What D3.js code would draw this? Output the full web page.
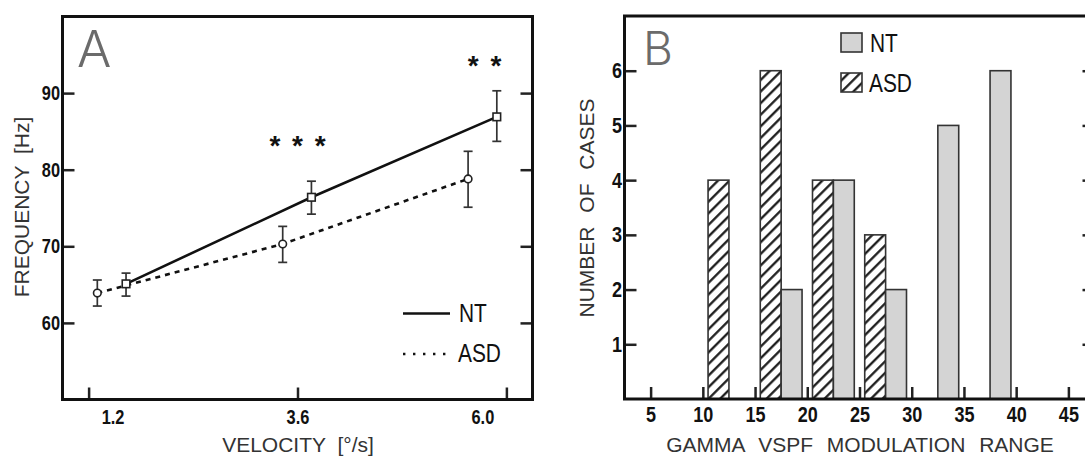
<!DOCTYPE html>
<html>
<head>
<meta charset="utf-8">
<script src="https://cdn.jsdelivr.net/npm/d3@7"></script>
<style>
  body { margin: 0; background: #fff; }
  svg text { font-family: "Liberation Sans", Arial, sans-serif; }
  .tick text { font-weight: bold; fill: #111; }
  .tick line { stroke: #222; stroke-width: 2.5; }
</style>
</head>
<body>
<svg id="chart" width="1085" height="456"></svg>
<script>
// ── Panel A: gamma frequency vs. drift velocity ─────────────────────────
const velTicks  = [1.2, 3.6, 6.0];
const freqTicks = [60, 70, 80, 90];

const ntVel  = [1.63, 3.76, 5.89];
const ntFreq = [65.1, 76.4, 86.9];
const ntLo   = [63.5, 74.2, 83.7];
const ntHi   = [66.5, 78.5, 90.3];

const asdVel  = [1.30, 3.43, 5.56];
const asdFreq = [63.9, 70.3, 78.8];
const asdLo   = [62.2, 67.9, 75.1];
const asdHi   = [65.6, 72.6, 82.4];

// significance marks (centre position in data units)
const starLabels = ['* * *', '* *'];
const starVel    = [3.6, 5.75];
const starFreq   = [83.8, 94.2];

// ── Panel B: histogram of modulation range ──────────────────────────────
const binStart   = [10, 15, 20, 25, 30, 35];
const asdCases   = [4, 6, 4, 3, 0, 0];
const ntCases    = [0, 2, 4, 2, 5, 6];
const rangeTicks = [5, 10, 15, 20, 25, 30, 35, 40, 45];
const caseTicks  = [1, 2, 3, 4, 5, 6];

const svg = d3.select('#chart');
const TICK = 12;
const NARROW = 0.82;   // fake a condensed face by squeezing Liberation Sans

// condensed label placed at x,y
function narrowText(g, x, y, size, txt) {
  return g.append('text')
    .attr('transform', `translate(${x},${y}) scale(${NARROW},1)`)
    .attr('font-size', size).attr('fill', '#111')
    .text(txt);
}
const squeezeTicks = size => g => g.selectAll('.tick text')
  .attr('font-size', size)
  .attr('transform', `scale(${NARROW},1)`);

// pattern for ASD bars
const defs = svg.append('defs');
defs.append('pattern')
  .attr('id', 'hatch')
  .attr('patternUnits', 'userSpaceOnUse')
  .attr('width', 8.2).attr('height', 8.2)
  .attr('patternTransform', 'rotate(45)')
  .call(p => p.append('rect').attr('width', 8.2).attr('height', 8.2).attr('fill', '#fff'))
  .append('line')
    .attr('x1', 4).attr('x2', 4).attr('y1', 0).attr('y2', 8.2)
    .attr('stroke', '#111').attr('stroke-width', 2.2);

// ════════════════════════════════════════════════════════════════════════
// Panel A
// ════════════════════════════════════════════════════════════════════════
const xA = d3.scaleLinear().domain([0.9, 6.3]).range([62.5, 532.5]);
const yA = d3.scaleLinear().domain([50, 100]).range([399.5, 16.5]);
const gA = svg.append('g');

gA.append('g')
  .attr('transform', `translate(${xA.range()[0]},0)`)
  .call(d3.axisLeft(yA).tickValues(freqTicks).tickFormat(d3.format('d')).tickSize(-TICK).tickPadding(3))
  .call(g => g.select('.domain').remove())
  .call(squeezeTicks(20));

gA.append('g')
  .attr('transform', `translate(${xA.range()[1]},0)`)
  .call(d3.axisRight(yA).tickValues(freqTicks).tickSize(-TICK).tickFormat(''))
  .call(g => g.select('.domain').remove());

// the outer velocity labels sit inward of their ticks in the original
gA.append('g')
  .attr('transform', `translate(0,${yA.range()[0]})`)
  .call(d3.axisBottom(xA).tickValues(velTicks).tickFormat(d3.format('.1f')).tickSize(-TICK).tickPadding(10))
  .call(g => g.select('.domain').remove())
  .call(squeezeTicks(20))
  .call(g => g.selectAll('.tick text')
    .attr('x', (d, i, n) => (i === 0 ? 24 : i === n.length - 1 ? -24 : 0) / NARROW));

gA.append('rect')
  .attr('x', xA.range()[0]).attr('y', yA.range()[1])
  .attr('width', xA.range()[1] - xA.range()[0])
  .attr('height', yA.range()[0] - yA.range()[1])
  .attr('fill', 'none').attr('stroke', '#111').attr('stroke-width', 3);

const lineA = d3.line().x(d => xA(d[0])).y(d => yA(d[1]));
const ntPts  = ntVel.map((v, i) => [v, ntFreq[i], ntLo[i], ntHi[i]]);
const asdPts = asdVel.map((v, i) => [v, asdFreq[i], asdLo[i], asdHi[i]]);

gA.append('path').attr('d', lineA(asdPts))
  .attr('fill', 'none').attr('stroke', '#111').attr('stroke-width', 2.6)
  .attr('stroke-dasharray', '5,5');
gA.append('path').attr('d', lineA(ntPts))
  .attr('fill', 'none').attr('stroke', '#111').attr('stroke-width', 2.6);

function errorBars(pts) {
  const g = gA.append('g').attr('stroke', '#333').attr('stroke-width', 1.7);
  pts.forEach(([v, , lo, hi]) => {
    const x = xA(v);
    g.append('line').attr('x1', x).attr('x2', x).attr('y1', yA(lo)).attr('y2', yA(hi));
    [lo, hi].forEach(e => g.append('line')
      .attr('x1', x - 4.5).attr('x2', x + 4.5).attr('y1', yA(e)).attr('y2', yA(e)));
  });
}
errorBars(asdPts);
errorBars(ntPts);

gA.selectAll('circle.asd').data(asdPts).join('circle')
  .attr('class', 'asd')
  .attr('cx', d => xA(d[0])).attr('cy', d => yA(d[1])).attr('r', 3.8)
  .attr('fill', '#fff').attr('stroke', '#222').attr('stroke-width', 1.6);
gA.selectAll('rect.nt').data(ntPts).join('rect')
  .attr('class', 'nt')
  .attr('x', d => xA(d[0]) - 3.8).attr('y', d => yA(d[1]) - 3.8)
  .attr('width', 7.6).attr('height', 7.6)
  .attr('fill', '#fff').attr('stroke', '#222').attr('stroke-width', 1.6);

gA.selectAll('text.star').data(starLabels).join('text')
  .attr('class', 'star')
  .attr('x', (d, i) => xA(starVel[i]))
  .attr('y', (d, i) => yA(starFreq[i]) + 14.5)
  .attr('text-anchor', 'middle')
  .attr('font-size', 28).attr('font-weight', 'bold')
  .attr('word-spacing', 4)
  .attr('fill', '#111')
  .text(d => d);

// legend
gA.append('line').attr('x1', 403).attr('x2', 450).attr('y1', 313.5).attr('y2', 313.5)
  .attr('stroke', '#111').attr('stroke-width', 2.6);
gA.append('line').attr('x1', 403).attr('x2', 446).attr('y1', 354).attr('y2', 354)
  .attr('stroke', '#111').attr('stroke-width', 2.4).attr('stroke-dasharray', '2.4,7.6');
narrowText(gA, 459, 322, 25.5, 'NT');
narrowText(gA, 458, 362, 25.5, 'ASD');

gA.append('text').attr('x', 77).attr('y', 67)
  .attr('font-size', 51).attr('fill', '#6b6b6b')
  .style('font-family', 'Inter, "Open Sans", "Liberation Sans", sans-serif')
  .style('font-weight', 300)
  .text('A');

gA.append('text')
  .attr('transform', 'translate(29,207) rotate(-90)')
  .attr('text-anchor', 'middle')
  .attr('font-size', 21).attr('fill', '#333').attr('word-spacing', 6)
  .text('FREQUENCY [Hz]');

gA.append('text')
  .attr('x', 298).attr('y', 452)
  .attr('text-anchor', 'middle')
  .attr('font-size', 21).attr('fill', '#333').attr('word-spacing', 6)
  .text('VELOCITY [°/s]');

// ════════════════════════════════════════════════════════════════════════
// Panel B
// ════════════════════════════════════════════════════════════════════════
const xB = d3.scaleLinear().domain([2.5, 47.5]).range([624.5, 1094.5]);
const yB = d3.scaleLinear().domain([0, 7]).range([399, 16]);
const gB = svg.append('g');

gB.append('g')
  .attr('transform', `translate(${xB.range()[0]},0)`)
  .call(d3.axisLeft(yB).tickValues(caseTicks).tickFormat(d3.format('d')).tickSize(-TICK).tickPadding(3))
  .call(g => g.select('.domain').remove())
  .call(squeezeTicks(22));

gB.append('g')
  .attr('transform', `translate(${xB.range()[1]},0)`)
  .call(d3.axisRight(yB).tickValues(caseTicks).tickSize(-TICK).tickFormat(''))
  .call(g => g.select('.domain').remove());

gB.append('g')
  .attr('transform', `translate(0,${yB.range()[0]})`)
  .call(d3.axisBottom(xB).tickValues(rangeTicks).tickFormat(d3.format('d')).tickSize(-TICK).tickPadding(7))
  .call(g => g.select('.domain').remove())
  .call(squeezeTicks(22));

const barsB = gB.append('g').attr('stroke', '#333').attr('stroke-width', 1.6);
barsB.selectAll('rect.asd').data(binStart.map((b, i) => [b, asdCases[i]]).filter(d => d[1] > 0))
  .join('rect').attr('class', 'asd')
  .attr('x', d => xB(d[0] + 0.5)).attr('width', d => xB(d[0] + 2.5) - xB(d[0] + 0.5))
  .attr('y', d => yB(d[1])).attr('height', d => yB(0) - yB(d[1]))
  .attr('fill', 'url(#hatch)');
barsB.selectAll('rect.nt').data(binStart.map((b, i) => [b, ntCases[i]]).filter(d => d[1] > 0))
  .join('rect').attr('class', 'nt')
  .attr('x', d => xB(d[0] + 2.5)).attr('width', d => xB(d[0] + 4.5) - xB(d[0] + 2.5))
  .attr('y', d => yB(d[1])).attr('height', d => yB(0) - yB(d[1]))
  .attr('fill', '#d4d4d4');

gB.append('rect')
  .attr('x', xB.range()[0]).attr('y', yB.range()[1])
  .attr('width', xB.range()[1] - xB.range()[0])
  .attr('height', yB.range()[0] - yB.range()[1])
  .attr('fill', 'none').attr('stroke', '#111').attr('stroke-width', 3);

// legend
gB.append('rect').attr('x', 841).attr('y', 33).attr('width', 21).attr('height', 19)
  .attr('fill', '#d4d4d4').attr('stroke', '#333').attr('stroke-width', 1.6);
gB.append('rect').attr('x', 841).attr('y', 73).attr('width', 21).attr('height', 19)
  .attr('fill', 'url(#hatch)').attr('stroke', '#333').attr('stroke-width', 1.6);
narrowText(gB, 870, 51.5, 25.5, 'NT');
narrowText(gB, 869, 92, 25.5, 'ASD');

gB.append('text').attr('x', 643).attr('y', 65)
  .attr('font-size', 46).attr('fill', '#6b6b6b')
  .style('font-family', 'Inter, "Open Sans", "Liberation Sans", sans-serif')
  .style('font-weight', 300)
  .text('B');

gB.append('text')
  .attr('transform', 'translate(594,208) rotate(-90)')
  .attr('text-anchor', 'middle')
  .attr('font-size', 21).attr('fill', '#333').attr('word-spacing', 8)
  .text('NUMBER OF CASES');

gB.append('text')
  .attr('x', 860).attr('y', 452)
  .attr('text-anchor', 'middle')
  .attr('font-size', 21).attr('fill', '#333').attr('word-spacing', 8)
  .text('GAMMA VSPF MODULATION RANGE');
</script>
</body>
</html>
